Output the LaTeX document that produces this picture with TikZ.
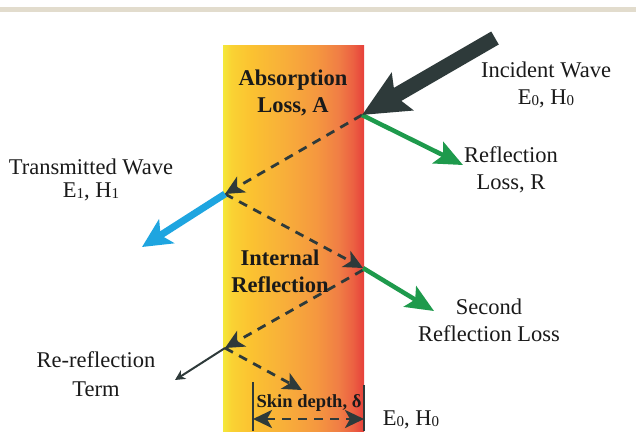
\documentclass[tikz,border=0pt]{standalone}
\usepackage{fontspec}
\setmainfont{Liberation Serif}
\usetikzlibrary{arrows.meta}
\definecolor{darkarrow}{HTML}{2E3A3A}
\definecolor{greenarrow}{HTML}{1E9A4C}
\definecolor{bluearrow}{HTML}{1EA5E0}
\definecolor{bandcol}{HTML}{E2DCCD}
\definecolor{textcol}{HTML}{1A1A1A}
\definecolor{sA}{HTML}{F4E83A}
\definecolor{sB}{HTML}{FAD233}
\definecolor{sC}{HTML}{FBC231}
\definecolor{sD}{HTML}{F8AE3A}
\definecolor{sE}{HTML}{F5983F}
\definecolor{sF}{HTML}{F07E45}
\definecolor{sG}{HTML}{EC6242}
\definecolor{sH}{HTML}{E6403B}
\pgfdeclarehorizontalshading{slabshade}{100bp}{%
  color(0bp)=(sA);
  color(25bp)=(sA);
  color(28bp)=(sB);
  color(35bp)=(sC);
  color(47bp)=(sD);
  color(58bp)=(sE);
  color(66bp)=(sF);
  color(71bp)=(sG);
  color(75bp)=(sH);
  color(100bp)=(sH)}
\newcommand{\sbs}[1]{\raisebox{-1pt}{\fontsize{15}{15}\selectfont #1}}
\tikzset{
  lbl/.style={font=\fontsize{22.5}{27}\selectfont, text=textcol, align=center, inner sep=0pt},
  blbl/.style={lbl, font=\fontsize{22.5}{27}\selectfont\bfseries},
  slbl/.style={lbl, font=\fontsize{18.5}{22}\selectfont\bfseries},
  dashtip/.style={},
  dasharrow/.style={draw=darkarrow, line width=2.8pt, dash pattern=on 9pt off 7pt,
    -{Stealth[length=19pt,width=18pt,inset=5pt,fill=darkarrow]}},
  incarrow/.style={draw=darkarrow, line width=15pt,
    -{Stealth[length=46pt,width=42pt,inset=8pt,fill=darkarrow]}},
  greenline/.style={draw=greenarrow, line width=4.5pt,
    -{Stealth[length=28pt,width=24pt,inset=6pt,fill=greenarrow]}},
  blueline/.style={draw=bluearrow, line width=7pt,
    -{Stealth[length=29pt,width=28pt,inset=7pt,fill=bluearrow]}},
  thinarrow/.style={draw=darkarrow, line width=2pt,
    -{Stealth[length=10pt,width=10pt,inset=3pt,fill=darkarrow]}},
  skinline/.style={draw=darkarrow, line width=2pt},
  skinarrow/.style={draw=darkarrow, line width=2.8pt, dash pattern=on 9pt off 7pt,
    {Stealth[length=19pt,width=18pt,inset=5pt,fill=darkarrow]}-{Stealth[length=19pt,width=18pt,inset=5pt,fill=darkarrow]}}
}
\begin{document}
\begin{tikzpicture}[x=1pt,y=-1pt]
\useasboundingbox (0,0) rectangle (636,431);
\fill[white] (0,0) rectangle (636,431);
% top band
\fill[bandcol] (0,7) rectangle (636,12);
% slab
\shade[shading=slabshade] (223,45) rectangle (364,431);

% key points
\coordinate (inctail) at (495,38);
\coordinate (P1) at (362,115);
\coordinate (P2) at (225,194);
\coordinate (P3) at (363,268);
\coordinate (P3b) at (363,270);
\coordinate (P4) at (225,348);
\coordinate (P5) at (302,390);
\coordinate (R1) at (463,165);
\coordinate (R2) at (434,311);
\coordinate (T1) at (142,247);
\coordinate (RR) at (175,380);
\coordinate (SLa) at (253,382);
\coordinate (SLb) at (253,431);
\coordinate (SRa) at (364,385);
\coordinate (SRb) at (364,431);
\coordinate (SkL) at (253,419);
\coordinate (SkR) at (364,419);

% dashed internal path
\draw[dasharrow] (P1) -- (P2);
\draw[dasharrow] (P2) -- (P3);
\draw[dasharrow] (P3b) -- (P4);
\draw[dasharrow] (P4) -- (P5);

% other arrows
\draw[greenline] (P1) -- (R1);
\draw[greenline] (P3) -- (R2);
\draw[blueline] (P2) -- (T1);
\draw[thinarrow] (P4) -- (RR);
\draw[incarrow] (inctail) -- (P1);

% skin depth
\draw[skinline] (SLa) -- (SLb);
\draw[skinline] (SRa) -- (SRb);
\draw[skinarrow] (SkL) -- (SkR);

% labels
\node[lbl] (incident) at (546,85) {Incident Wave\\E\sbs{0}, H\sbs{0}};
\node[lbl] (reflR) at (511,170) {Reflection\\Loss, R};
\node[blbl] (absorb) at (293,93) {Absorption\\Loss, A};
\node[lbl] (trans) at (91,180) {Transmitted Wave\\[-4pt]E\sbs{1}, H\sbs{1}};
\node[blbl] (internal) at (280,271) {Internal\\Reflection};
\node[lbl] (second) at (489,320) {Second\\Reflection Loss};
\node[lbl] (rerefl) at (96,374) {Re-reflection\\[2pt]Term};
\node[slbl] (skin) at (309,403) {Skin depth, δ};
\node[lbl] (eh) at (411,420) {E\sbs{0}, H\sbs{0}};
\end{tikzpicture}
\end{document}
